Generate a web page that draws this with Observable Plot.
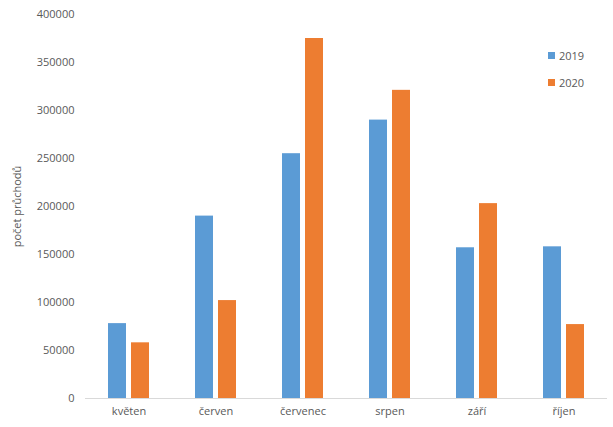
<!DOCTYPE html>
<html>
<head>
<meta charset="utf-8">
<script src="https://cdn.jsdelivr.net/npm/d3@7"></script>
<script src="https://cdn.jsdelivr.net/npm/@observablehq/plot@0.6"></script>
<style>
  html, body { margin: 0; padding: 0; background: #fff; }
  #wrap { position: relative; width: 613px; height: 427px; font-family: "Open Sans", sans-serif; }
  #legend { position: absolute; left: 548px; top: 46px; font-size: 11px; color: #595959; }
  #legend div { display: flex; align-items: center; height: 18px; margin-bottom: 9px; }
  #legend span.sw { display: inline-block; width: 7px; height: 7px; margin-right: 4px; }
</style>
</head>
<body>
<div id="wrap"></div>
<script>
const months = ["květen", "červen", "červenec", "srpen", "září", "říjen"];
const years = ["2019", "2020"];
const values2019 = [78000, 190000, 255000, 290000, 157000, 158000];
const values2020 = [58000, 102000, 375000, 321000, 203000, 77000];
const colors = ["#5b9bd5", "#ed7d31"];
const yTicks = [0, 50000, 100000, 150000, 200000, 250000, 300000, 350000, 400000];

const data = [];
months.forEach((m, i) => {
  data.push({month: m, year: "2019", value: values2019[i]});
  data.push({month: m, year: "2020", value: values2020[i]});
});

const chart = Plot.plot({
  width: 613,
  height: 427,
  marginLeft: 85,
  marginRight: 6,
  marginTop: 14,
  marginBottom: 29,
  style: {fontFamily: "Open Sans, sans-serif", fontSize: "11px", color: "#595959", background: "#fff"},
  fx: {domain: months, padding: 0, label: null},
  x: {domain: years, paddingInner: 0.21, paddingOuter: 0.92, axis: null},
  y: {domain: [0, 400000], label: "počet průchodů"},
  color: {domain: years, range: colors},
  marks: [
    Plot.barY(data, {fx: "month", x: "year", y: "value", fill: "year"}),
    Plot.ruleY([0], {stroke: "#d9d9d9", strokeWidth: 1}),
    Plot.axisY({ticks: yTicks, tickSize: 0, tickPadding: 11, tickFormat: d => String(d),
      label: "počet průchodů", labelAnchor: "center", labelOffset: 72, labelArrow: "none"}),
    Plot.axisFx({anchor: "bottom", tickSize: 0, tickPadding: 9, label: null})
  ]
});

const wrap = document.getElementById("wrap");
wrap.appendChild(chart);

const legend = document.createElement("div");
legend.id = "legend";
years.forEach((y, i) => {
  const row = document.createElement("div");
  const sw = document.createElement("span");
  sw.className = "sw";
  sw.style.background = colors[i];
  row.appendChild(sw);
  row.appendChild(document.createTextNode(y));
  legend.appendChild(row);
});
wrap.appendChild(legend);
</script>
</body>
</html>
